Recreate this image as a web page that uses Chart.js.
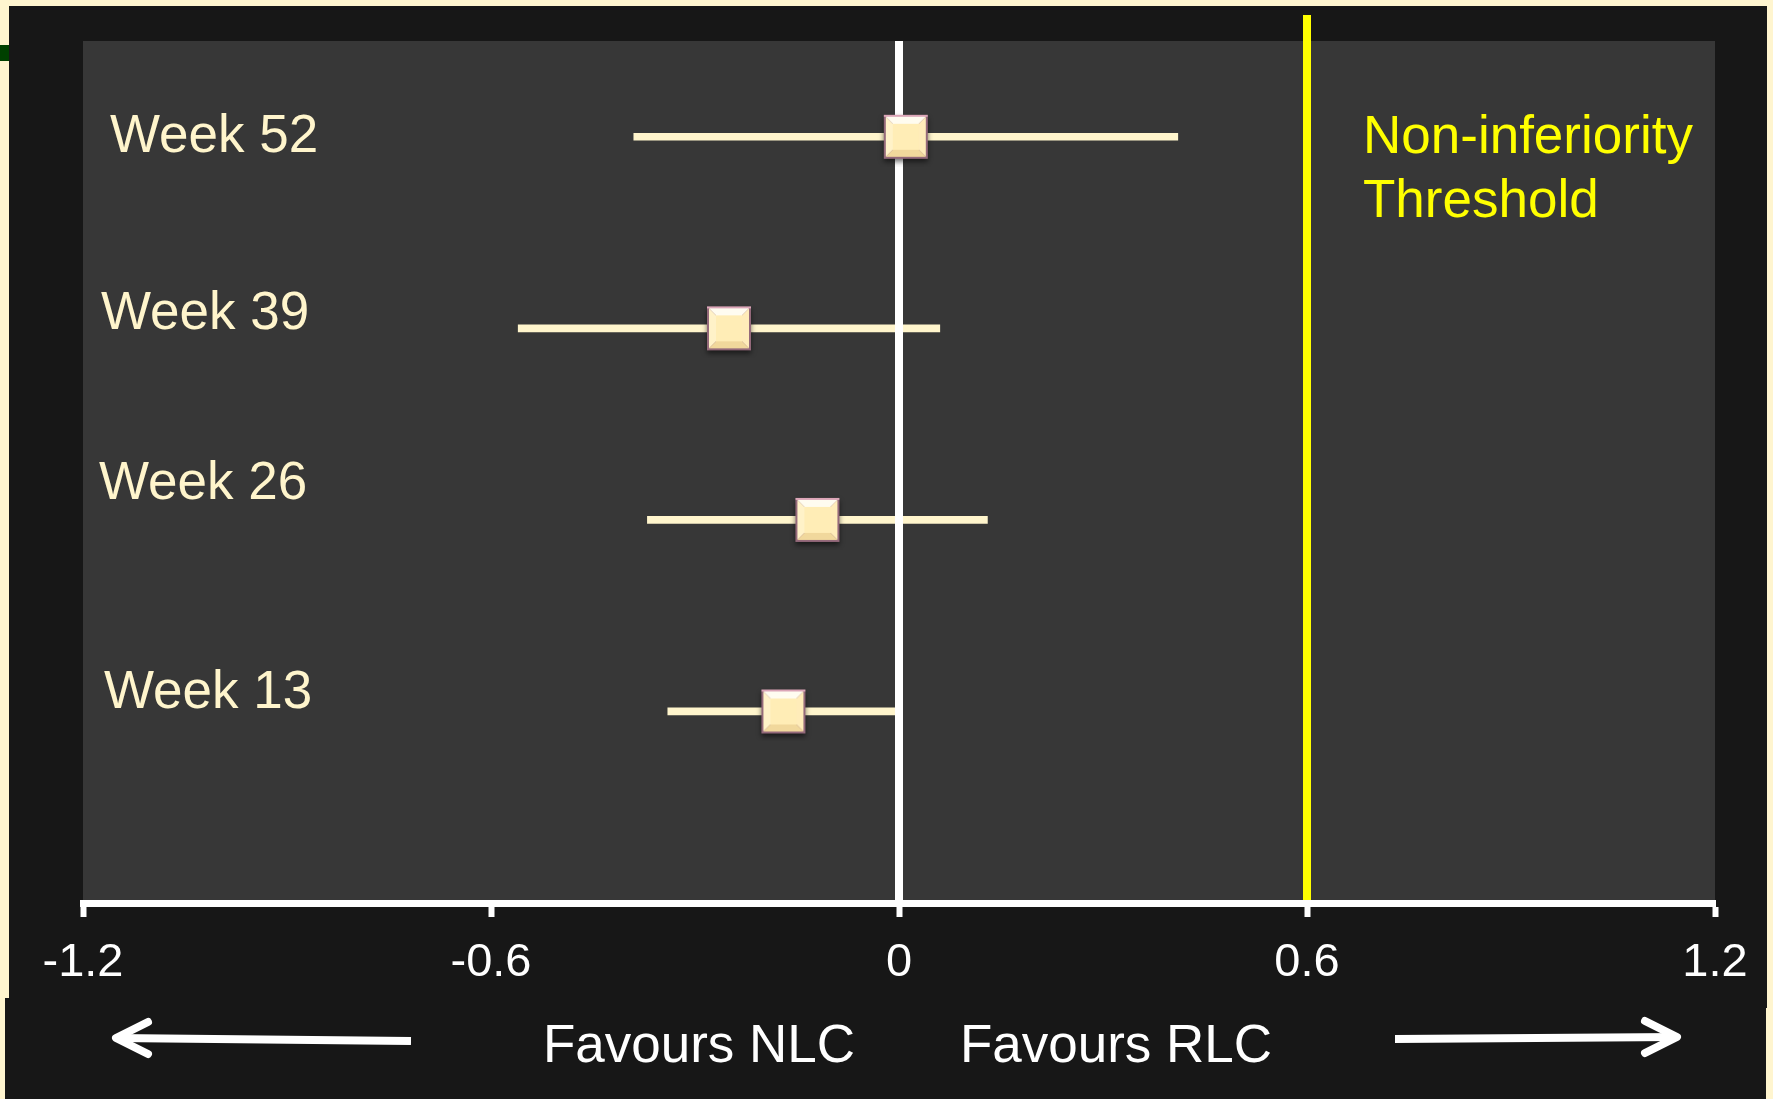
<!DOCTYPE html>
<html>
<head>
<meta charset="utf-8">
<title>Non-inferiority forest plot</title>
<script src="https://cdn.jsdelivr.net/npm/chart.js@4.4.1/dist/chart.umd.min.js"></script>
<style>
    html, body { margin: 0; padding: 0; background: #fff5cf; }
    canvas { display: block; }
</style>
</head>
<body>
<canvas id="forest" width="1773" height="1099"></canvas>
<script>
// data
const weeks = ["Week 52", "Week 39", "Week 26", "Week 13"];
const rows = [4, 3, 2, 1];
const estimate = [0.01, -0.25, -0.12, -0.17];
const lower = [-0.39, -0.56, -0.37, -0.34];
const upper = [0.41, 0.06, 0.13, 0.0];
const threshold = 0.6;
const xTicks = [-1.2, -0.6, 0, 0.6, 1.2];
const xTickLabels = ["-1.2", "-0.6", "0", "0.6", "1.2"];
const thresholdText = ["Non-inferiority", "Threshold"];
const favours = ["Favours NLC", "Favours RLC"];

const FONT = '"Liberation Sans", Arial, Helvetica, sans-serif';
const CREAM = "#fff5cc";

// bevelled square used as the point style
function makeMarker() {
    const c = document.createElement("canvas");
    c.width = 60;
    c.height = 60;
    const g = c.getContext("2d");
    const s = 44, o = 8, b = 7;

    g.shadowColor = "rgba(0,0,0,0.55)";
    g.shadowBlur = 5;
    g.shadowOffsetY = 3;
    g.fillStyle = "#94697a";
    g.fillRect(o, o, s, s);
    g.shadowColor = "transparent";
    g.fillStyle = "#dca6b8";
    g.fillRect(o, o, s, 2);

    const i0 = o + 2, i1 = o + s - 2;
    const j0 = i0 + b, j1 = i1 - b;
    const poly = (pts, col) => {
        g.fillStyle = col;
        g.beginPath();
        g.moveTo(pts[0], pts[1]);
        for (let k = 2; k < pts.length; k += 2) g.lineTo(pts[k], pts[k + 1]);
        g.closePath();
        g.fill();
    };
    poly([i0, i0, i1, i0, j1, j0, j0, j0], "#fffcf0");
    poly([i0, i0, j0, j0, j0, j1, i0, i1], "#fff2c8");
    poly([i1, i0, i1, i1, j1, j1, j1, j0], "#ffecb9");
    poly([i0, i1, j0, j1, j1, j1, i1, i1], "#f1d89c");
    g.fillStyle = "#ffedb6";
    g.fillRect(j0, j0, j1 - j0, j1 - j0);
    return c;
}

function arrow(ctx, x0, y0, x1, y1, dir) {
    ctx.beginPath();
    ctx.moveTo(x0, y0);
    ctx.lineTo(x1, y1);
    ctx.lineCap = "butt";
    ctx.stroke();
    ctx.beginPath();
    ctx.moveTo(x1 - dir * 32, y1 - 16);
    ctx.lineTo(x1, y1);
    ctx.lineTo(x1 - dir * 32, y1 + 16);
    ctx.lineCap = "round";
    ctx.lineJoin = "round";
    ctx.stroke();
}

const slide = {
    id: "slide",
    beforeDraw(chart) {
        const { ctx, chartArea: a } = chart;
        ctx.save();
        ctx.fillStyle = "#fff5cf";
        ctx.fillRect(0, 0, chart.width, chart.height);
        ctx.fillStyle = "#004000";
        ctx.fillRect(0, 45, 10, 16);
        ctx.fillStyle = "#171717";
        ctx.fillRect(9, 6, 1758, 1002);
        ctx.fillRect(5, 998, 1761, 101);
        ctx.fillStyle = "#373737";
        ctx.fillRect(a.left, a.top, a.right - a.left, a.bottom - a.top);

        // non-inferiority threshold
        const tx = chart.scales.x.getPixelForValue(threshold);
        ctx.fillStyle = "#ffff00";
        ctx.fillRect(tx - 4, 15, 8, a.bottom - 15);
        ctx.restore();
    },
    afterDatasetDraw(chart, args) {
        if (args.meta.type !== "bar") return;
        const { ctx, chartArea: a } = chart;
        const zx = chart.scales.x.getPixelForValue(0);
        ctx.save();
        ctx.fillStyle = "#ffffff";
        ctx.fillRect(zx - 4, a.top, 8, a.bottom - a.top);
        ctx.restore();
    },
    afterDraw(chart) {
        const { ctx } = chart;
        const y = chart.scales.y;
        ctx.save();

        // row labels
        const labelX = [110, 101, 99, 104];
        const labelDy = [15, 1, -21, -3];
        ctx.font = "53px " + FONT;
        ctx.fillStyle = CREAM;
        ctx.textAlign = "left";
        ctx.textBaseline = "alphabetic";
        weeks.forEach((w, i) => {
            ctx.fillText(w, labelX[i], y.getPixelForValue(rows[i]) + labelDy[i]);
        });

        ctx.fillStyle = "#ffff00";
        ctx.fillText(thresholdText[0], 1363, 153);
        ctx.fillText(thresholdText[1], 1363, 217);

        ctx.fillStyle = "#ffffff";
        ctx.textAlign = "center";
        ctx.fillText(favours[0], 699, 1062);
        ctx.fillText(favours[1], 1116, 1062);

        ctx.strokeStyle = "#ffffff";
        ctx.lineWidth = 8;
        arrow(ctx, 411, 1041, 116, 1038, -1);
        arrow(ctx, 1395, 1039, 1677, 1037, 1);
        ctx.restore();
    }
};

new Chart(
    document.getElementById("forest"),
    {
        type: "scatter",
        data: {
            datasets: [
                {
                    type: "bar",
                    indexAxis: "y",
                    data: weeks.map((w, i) => ({ y: rows[i], x: [lower[i], upper[i]] })),
                    backgroundColor: CREAM,
                    borderWidth: 0,
                    barThickness: 7,
                    order: 2
                },
                {
                    type: "scatter",
                    data: weeks.map((w, i) => ({ x: estimate[i], y: rows[i] })),
                    pointStyle: makeMarker(),
                    pointRadius: 22,
                    order: 1
                }
            ]
        },
        options: {
            responsive: false,
            animation: false,
            events: [],
            layout: {
                padding: { left: 83, right: 58, top: 41, bottom: 0 }
            },
            plugins: {
                legend: { display: false },
                tooltip: { enabled: false }
            },
            scales: {
                x: {
                    type: "linear",
                    min: -1.2,
                    max: 1.2,
                    offset: false,
                    afterBuildTicks: s => { s.ticks = xTicks.map(v => ({ value: v })); },
                    afterFit: s => { s.height = 196; },
                    border: { display: true, color: "#ffffff", width: 7 },
                    grid: {
                        offset: false,
                        drawOnChartArea: false,
                        drawTicks: true,
                        tickLength: 14,
                        tickWidth: 6,
                        tickColor: "#ffffff"
                    },
                    ticks: {
                        color: "#ffffff",
                        font: { size: 47, family: FONT },
                        padding: 18,
                        maxRotation: 0,
                        autoSkip: false,
                        callback: (v, i) => xTickLabels[i]
                    }
                },
                y: {
                    type: "linear",
                    display: false,
                    min: 0,
                    max: 4.5,
                    offset: false
                }
            }
        },
        plugins: [slide]
    }
);
</script>
</body>
</html>
